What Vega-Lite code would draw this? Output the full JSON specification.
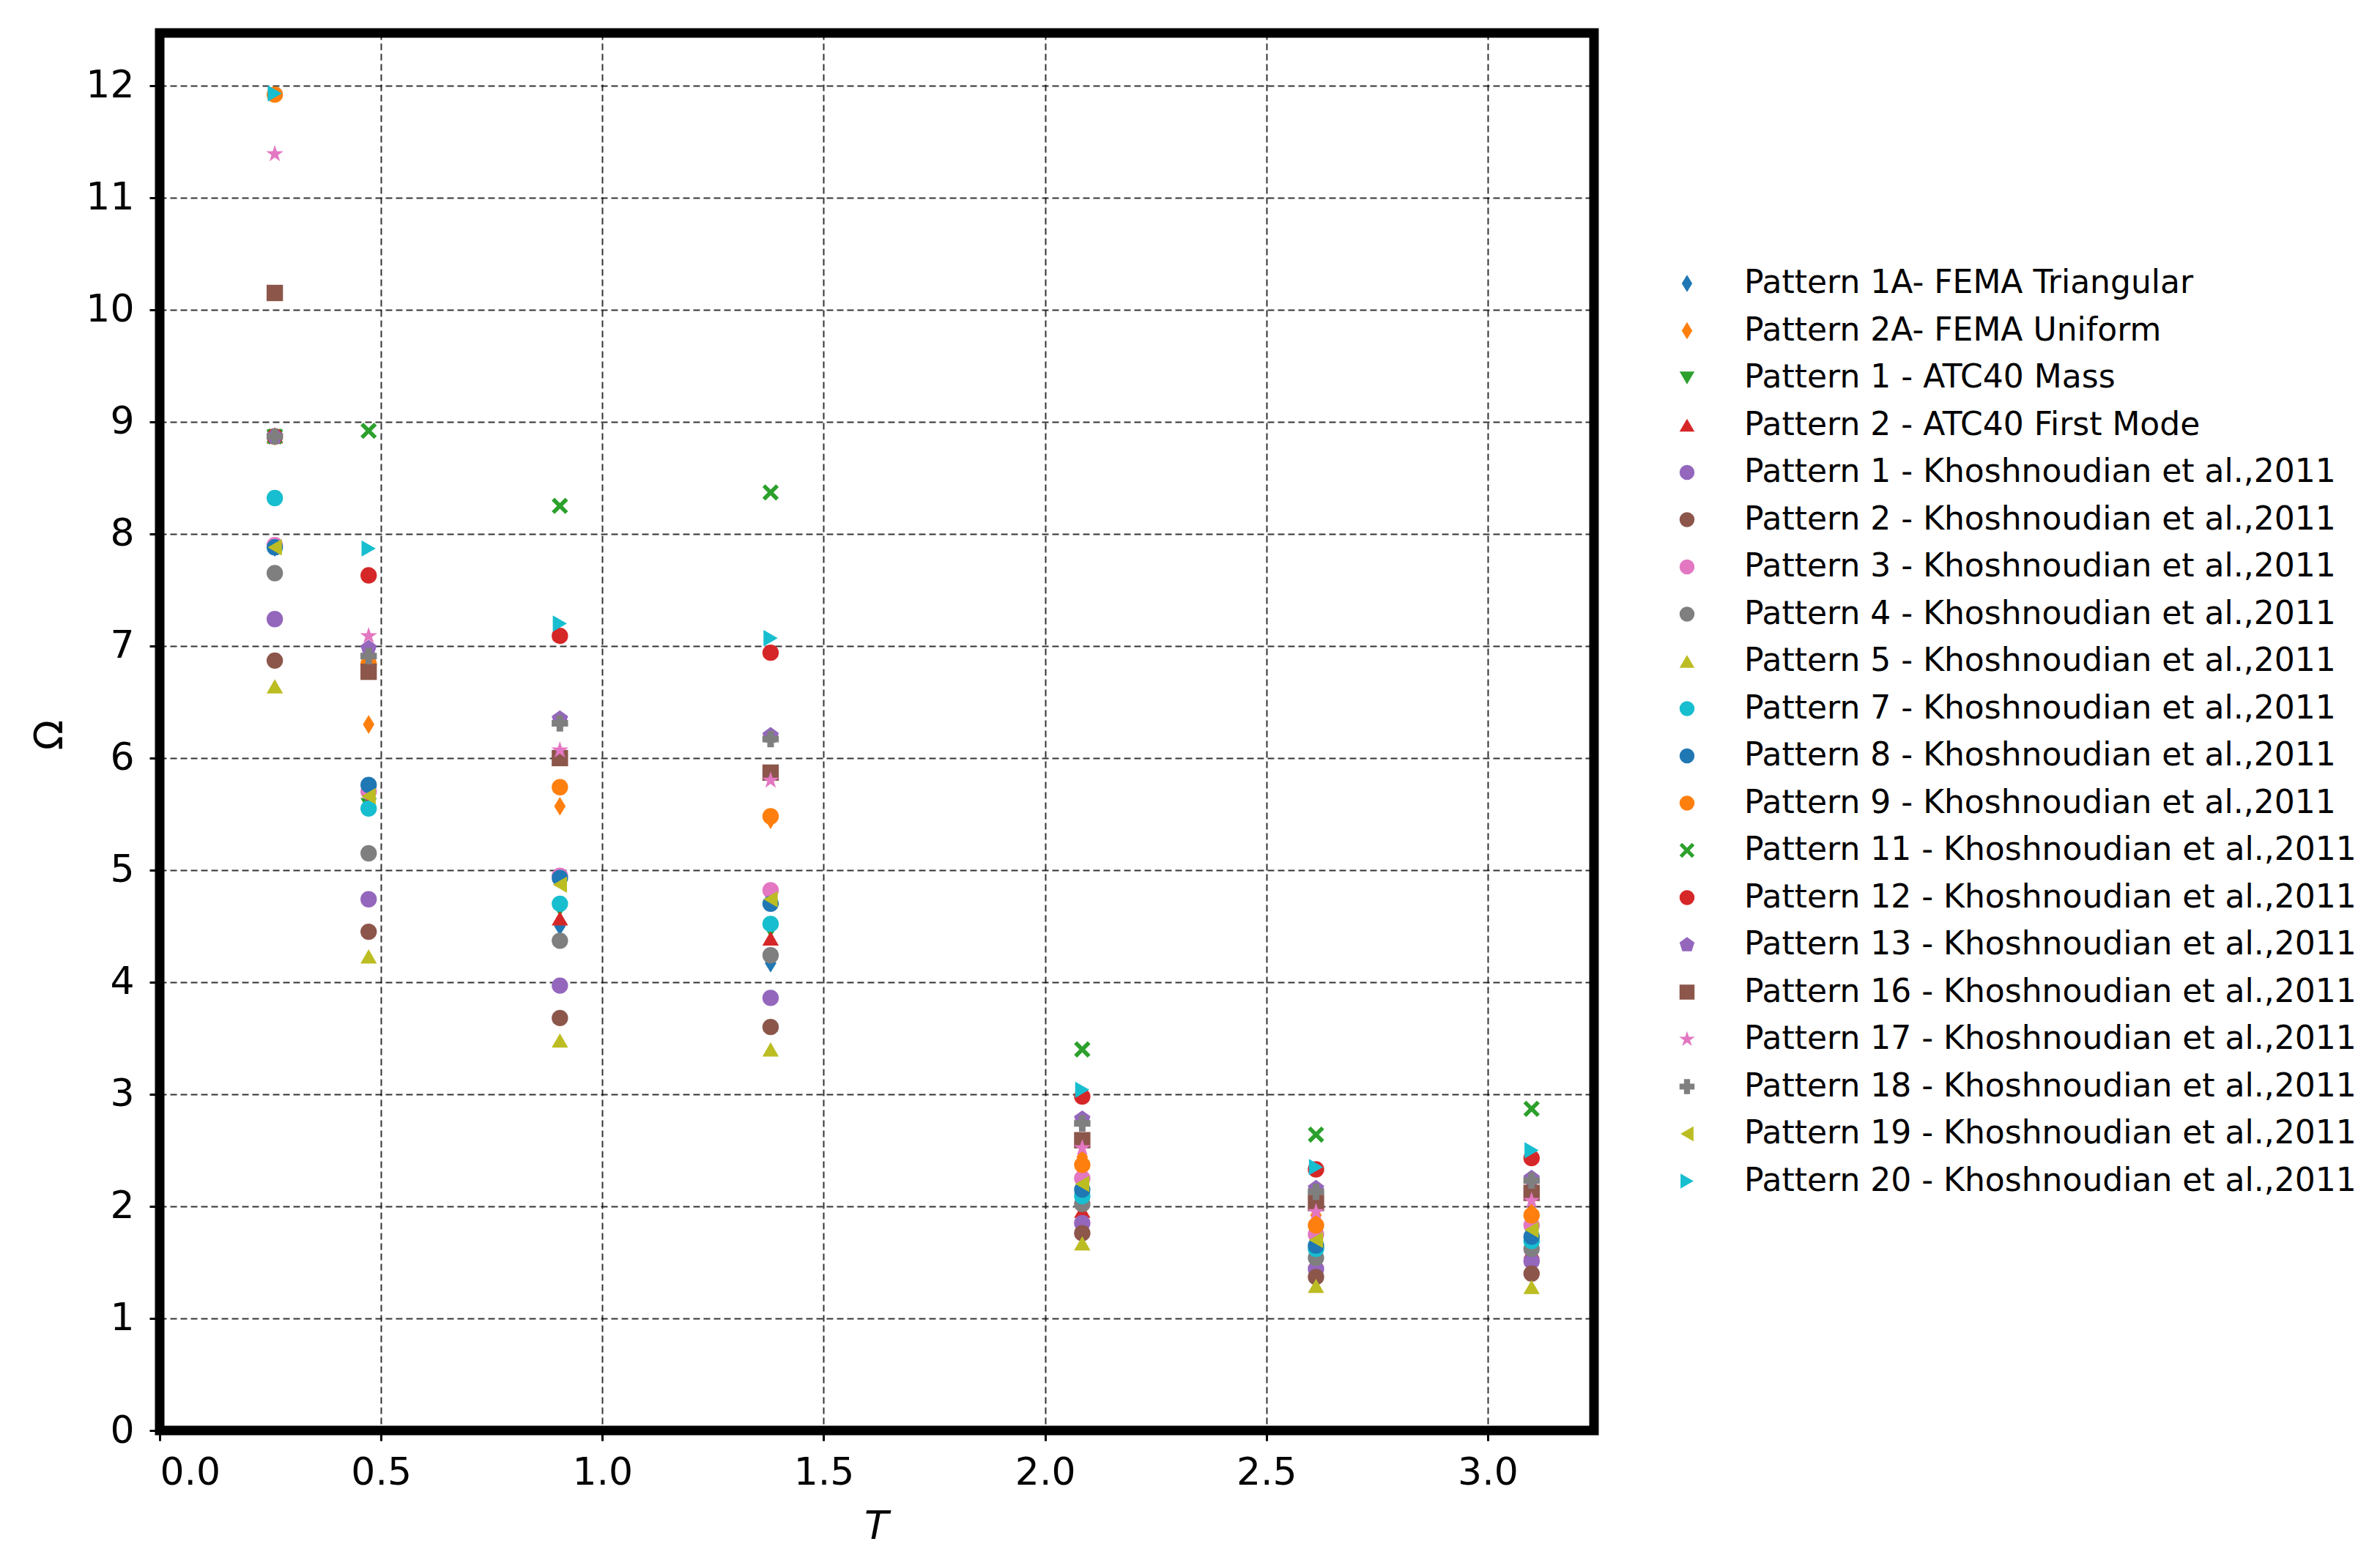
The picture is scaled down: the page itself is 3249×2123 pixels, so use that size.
{
  "$schema": "https://vega.github.io/schema/vega-lite/v6.json",
  "width": 1958,
  "height": 1908,
  "autosize": {"type": "none"},
  "padding": {"left": 218, "top": 45, "right": 1073, "bottom": 170},
  "background": "white",
  "config": {
    "font": "DejaVu Sans",
    "view": {"stroke": "black", "strokeWidth": 13}
  },
  "data": {
    "values": [
      {"pattern": "Pattern 1A- FEMA Triangular", "T": 0.26, "Omega": 7.88},
      {"pattern": "Pattern 1A- FEMA Triangular", "T": 0.472, "Omega": 5.62},
      {"pattern": "Pattern 1A- FEMA Triangular", "T": 0.904, "Omega": 4.50},
      {"pattern": "Pattern 1A- FEMA Triangular", "T": 1.38, "Omega": 4.17},
      {"pattern": "Pattern 1A- FEMA Triangular", "T": 2.084, "Omega": 2.12},
      {"pattern": "Pattern 1A- FEMA Triangular", "T": 2.612, "Omega": 1.63},
      {"pattern": "Pattern 1A- FEMA Triangular", "T": 3.099, "Omega": 1.70},
      {"pattern": "Pattern 2A- FEMA Uniform", "T": 0.26, "Omega": 8.87},
      {"pattern": "Pattern 2A- FEMA Uniform", "T": 0.472, "Omega": 6.30},
      {"pattern": "Pattern 2A- FEMA Uniform", "T": 0.904, "Omega": 5.57},
      {"pattern": "Pattern 2A- FEMA Uniform", "T": 1.38, "Omega": 5.45},
      {"pattern": "Pattern 2A- FEMA Uniform", "T": 2.084, "Omega": 2.44},
      {"pattern": "Pattern 2A- FEMA Uniform", "T": 2.612, "Omega": 1.92},
      {"pattern": "Pattern 2A- FEMA Uniform", "T": 3.099, "Omega": 1.95},
      {"pattern": "Pattern 1 - ATC40 Mass", "T": 0.26, "Omega": 8.87},
      {"pattern": "Pattern 1 - ATC40 Mass", "T": 0.472, "Omega": 5.58},
      {"pattern": "Pattern 1 - ATC40 Mass", "T": 0.904, "Omega": 4.65},
      {"pattern": "Pattern 1 - ATC40 Mass", "T": 1.38, "Omega": 4.46},
      {"pattern": "Pattern 1 - ATC40 Mass", "T": 2.084, "Omega": 2.06},
      {"pattern": "Pattern 1 - ATC40 Mass", "T": 2.612, "Omega": 1.60},
      {"pattern": "Pattern 1 - ATC40 Mass", "T": 3.099, "Omega": 1.66},
      {"pattern": "Pattern 2 - ATC40 First Mode", "T": 0.26, "Omega": 8.87},
      {"pattern": "Pattern 2 - ATC40 First Mode", "T": 0.472, "Omega": 5.60},
      {"pattern": "Pattern 2 - ATC40 First Mode", "T": 0.904, "Omega": 4.57},
      {"pattern": "Pattern 2 - ATC40 First Mode", "T": 1.38, "Omega": 4.39},
      {"pattern": "Pattern 2 - ATC40 First Mode", "T": 2.084, "Omega": 1.96},
      {"pattern": "Pattern 2 - ATC40 First Mode", "T": 2.612, "Omega": 1.52},
      {"pattern": "Pattern 2 - ATC40 First Mode", "T": 3.099, "Omega": 1.60},
      {"pattern": "Pattern 1 - Khoshnoudian et al.,2011", "T": 0.26, "Omega": 7.24},
      {"pattern": "Pattern 1 - Khoshnoudian et al.,2011", "T": 0.472, "Omega": 4.74},
      {"pattern": "Pattern 1 - Khoshnoudian et al.,2011", "T": 0.904, "Omega": 3.97},
      {"pattern": "Pattern 1 - Khoshnoudian et al.,2011", "T": 1.38, "Omega": 3.86},
      {"pattern": "Pattern 1 - Khoshnoudian et al.,2011", "T": 2.084, "Omega": 1.85},
      {"pattern": "Pattern 1 - Khoshnoudian et al.,2011", "T": 2.612, "Omega": 1.44},
      {"pattern": "Pattern 1 - Khoshnoudian et al.,2011", "T": 3.099, "Omega": 1.51},
      {"pattern": "Pattern 2 - Khoshnoudian et al.,2011", "T": 0.26, "Omega": 6.87},
      {"pattern": "Pattern 2 - Khoshnoudian et al.,2011", "T": 0.472, "Omega": 4.45},
      {"pattern": "Pattern 2 - Khoshnoudian et al.,2011", "T": 0.904, "Omega": 3.68},
      {"pattern": "Pattern 2 - Khoshnoudian et al.,2011", "T": 1.38, "Omega": 3.60},
      {"pattern": "Pattern 2 - Khoshnoudian et al.,2011", "T": 2.084, "Omega": 1.76},
      {"pattern": "Pattern 2 - Khoshnoudian et al.,2011", "T": 2.612, "Omega": 1.37},
      {"pattern": "Pattern 2 - Khoshnoudian et al.,2011", "T": 3.099, "Omega": 1.40},
      {"pattern": "Pattern 3 - Khoshnoudian et al.,2011", "T": 0.26, "Omega": 7.90},
      {"pattern": "Pattern 3 - Khoshnoudian et al.,2011", "T": 0.472, "Omega": 5.70},
      {"pattern": "Pattern 3 - Khoshnoudian et al.,2011", "T": 0.904, "Omega": 4.95},
      {"pattern": "Pattern 3 - Khoshnoudian et al.,2011", "T": 1.38, "Omega": 4.82},
      {"pattern": "Pattern 3 - Khoshnoudian et al.,2011", "T": 2.084, "Omega": 2.25},
      {"pattern": "Pattern 3 - Khoshnoudian et al.,2011", "T": 2.612, "Omega": 1.75},
      {"pattern": "Pattern 3 - Khoshnoudian et al.,2011", "T": 3.099, "Omega": 1.83},
      {"pattern": "Pattern 4 - Khoshnoudian et al.,2011", "T": 0.26, "Omega": 7.65},
      {"pattern": "Pattern 4 - Khoshnoudian et al.,2011", "T": 0.472, "Omega": 5.15},
      {"pattern": "Pattern 4 - Khoshnoudian et al.,2011", "T": 0.904, "Omega": 4.37},
      {"pattern": "Pattern 4 - Khoshnoudian et al.,2011", "T": 1.38, "Omega": 4.24},
      {"pattern": "Pattern 4 - Khoshnoudian et al.,2011", "T": 2.084, "Omega": 2.02},
      {"pattern": "Pattern 4 - Khoshnoudian et al.,2011", "T": 2.612, "Omega": 1.54},
      {"pattern": "Pattern 4 - Khoshnoudian et al.,2011", "T": 3.099, "Omega": 1.62},
      {"pattern": "Pattern 5 - Khoshnoudian et al.,2011", "T": 0.26, "Omega": 6.64},
      {"pattern": "Pattern 5 - Khoshnoudian et al.,2011", "T": 0.472, "Omega": 4.23},
      {"pattern": "Pattern 5 - Khoshnoudian et al.,2011", "T": 0.904, "Omega": 3.48},
      {"pattern": "Pattern 5 - Khoshnoudian et al.,2011", "T": 1.38, "Omega": 3.40},
      {"pattern": "Pattern 5 - Khoshnoudian et al.,2011", "T": 2.084, "Omega": 1.67},
      {"pattern": "Pattern 5 - Khoshnoudian et al.,2011", "T": 2.612, "Omega": 1.29},
      {"pattern": "Pattern 5 - Khoshnoudian et al.,2011", "T": 3.099, "Omega": 1.28},
      {"pattern": "Pattern 7 - Khoshnoudian et al.,2011", "T": 0.26, "Omega": 8.32},
      {"pattern": "Pattern 7 - Khoshnoudian et al.,2011", "T": 0.472, "Omega": 5.55},
      {"pattern": "Pattern 7 - Khoshnoudian et al.,2011", "T": 0.904, "Omega": 4.70},
      {"pattern": "Pattern 7 - Khoshnoudian et al.,2011", "T": 1.38, "Omega": 4.52},
      {"pattern": "Pattern 7 - Khoshnoudian et al.,2011", "T": 2.084, "Omega": 2.09},
      {"pattern": "Pattern 7 - Khoshnoudian et al.,2011", "T": 2.612, "Omega": 1.62},
      {"pattern": "Pattern 7 - Khoshnoudian et al.,2011", "T": 3.099, "Omega": 1.69},
      {"pattern": "Pattern 8 - Khoshnoudian et al.,2011", "T": 0.26, "Omega": 7.88},
      {"pattern": "Pattern 8 - Khoshnoudian et al.,2011", "T": 0.472, "Omega": 5.76},
      {"pattern": "Pattern 8 - Khoshnoudian et al.,2011", "T": 0.904, "Omega": 4.93},
      {"pattern": "Pattern 8 - Khoshnoudian et al.,2011", "T": 1.38, "Omega": 4.70},
      {"pattern": "Pattern 8 - Khoshnoudian et al.,2011", "T": 2.084, "Omega": 2.15},
      {"pattern": "Pattern 8 - Khoshnoudian et al.,2011", "T": 2.612, "Omega": 1.65},
      {"pattern": "Pattern 8 - Khoshnoudian et al.,2011", "T": 3.099, "Omega": 1.73},
      {"pattern": "Pattern 9 - Khoshnoudian et al.,2011", "T": 0.26, "Omega": 11.92},
      {"pattern": "Pattern 9 - Khoshnoudian et al.,2011", "T": 0.472, "Omega": 6.84},
      {"pattern": "Pattern 9 - Khoshnoudian et al.,2011", "T": 0.904, "Omega": 5.74},
      {"pattern": "Pattern 9 - Khoshnoudian et al.,2011", "T": 1.38, "Omega": 5.48},
      {"pattern": "Pattern 9 - Khoshnoudian et al.,2011", "T": 2.084, "Omega": 2.37},
      {"pattern": "Pattern 9 - Khoshnoudian et al.,2011", "T": 2.612, "Omega": 1.83},
      {"pattern": "Pattern 9 - Khoshnoudian et al.,2011", "T": 3.099, "Omega": 1.92},
      {"pattern": "Pattern 11 - Khoshnoudian et al.,2011", "T": 0.26, "Omega": 8.87},
      {"pattern": "Pattern 11 - Khoshnoudian et al.,2011", "T": 0.472, "Omega": 8.92},
      {"pattern": "Pattern 11 - Khoshnoudian et al.,2011", "T": 0.904, "Omega": 8.25},
      {"pattern": "Pattern 11 - Khoshnoudian et al.,2011", "T": 1.38, "Omega": 8.37},
      {"pattern": "Pattern 11 - Khoshnoudian et al.,2011", "T": 2.084, "Omega": 3.40},
      {"pattern": "Pattern 11 - Khoshnoudian et al.,2011", "T": 2.612, "Omega": 2.64},
      {"pattern": "Pattern 11 - Khoshnoudian et al.,2011", "T": 3.099, "Omega": 2.87},
      {"pattern": "Pattern 12 - Khoshnoudian et al.,2011", "T": 0.26, "Omega": 8.87},
      {"pattern": "Pattern 12 - Khoshnoudian et al.,2011", "T": 0.472, "Omega": 7.63},
      {"pattern": "Pattern 12 - Khoshnoudian et al.,2011", "T": 0.904, "Omega": 7.09},
      {"pattern": "Pattern 12 - Khoshnoudian et al.,2011", "T": 1.38, "Omega": 6.94},
      {"pattern": "Pattern 12 - Khoshnoudian et al.,2011", "T": 2.084, "Omega": 2.98},
      {"pattern": "Pattern 12 - Khoshnoudian et al.,2011", "T": 2.612, "Omega": 2.33},
      {"pattern": "Pattern 12 - Khoshnoudian et al.,2011", "T": 3.099, "Omega": 2.43},
      {"pattern": "Pattern 13 - Khoshnoudian et al.,2011", "T": 0.26, "Omega": 8.87},
      {"pattern": "Pattern 13 - Khoshnoudian et al.,2011", "T": 0.472, "Omega": 6.98},
      {"pattern": "Pattern 13 - Khoshnoudian et al.,2011", "T": 0.904, "Omega": 6.35},
      {"pattern": "Pattern 13 - Khoshnoudian et al.,2011", "T": 1.38, "Omega": 6.20},
      {"pattern": "Pattern 13 - Khoshnoudian et al.,2011", "T": 2.084, "Omega": 2.78},
      {"pattern": "Pattern 13 - Khoshnoudian et al.,2011", "T": 2.612, "Omega": 2.16},
      {"pattern": "Pattern 13 - Khoshnoudian et al.,2011", "T": 3.099, "Omega": 2.25},
      {"pattern": "Pattern 16 - Khoshnoudian et al.,2011", "T": 0.26, "Omega": 10.15},
      {"pattern": "Pattern 16 - Khoshnoudian et al.,2011", "T": 0.472, "Omega": 6.77},
      {"pattern": "Pattern 16 - Khoshnoudian et al.,2011", "T": 0.904, "Omega": 6.00},
      {"pattern": "Pattern 16 - Khoshnoudian et al.,2011", "T": 1.38, "Omega": 5.87},
      {"pattern": "Pattern 16 - Khoshnoudian et al.,2011", "T": 2.084, "Omega": 2.59},
      {"pattern": "Pattern 16 - Khoshnoudian et al.,2011", "T": 2.612, "Omega": 2.03},
      {"pattern": "Pattern 16 - Khoshnoudian et al.,2011", "T": 3.099, "Omega": 2.12},
      {"pattern": "Pattern 17 - Khoshnoudian et al.,2011", "T": 0.26, "Omega": 11.39},
      {"pattern": "Pattern 17 - Khoshnoudian et al.,2011", "T": 0.472, "Omega": 7.09},
      {"pattern": "Pattern 17 - Khoshnoudian et al.,2011", "T": 0.904, "Omega": 6.07},
      {"pattern": "Pattern 17 - Khoshnoudian et al.,2011", "T": 1.38, "Omega": 5.80},
      {"pattern": "Pattern 17 - Khoshnoudian et al.,2011", "T": 2.084, "Omega": 2.52},
      {"pattern": "Pattern 17 - Khoshnoudian et al.,2011", "T": 2.612, "Omega": 1.95},
      {"pattern": "Pattern 17 - Khoshnoudian et al.,2011", "T": 3.099, "Omega": 2.05},
      {"pattern": "Pattern 18 - Khoshnoudian et al.,2011", "T": 0.26, "Omega": 8.87},
      {"pattern": "Pattern 18 - Khoshnoudian et al.,2011", "T": 0.472, "Omega": 6.91},
      {"pattern": "Pattern 18 - Khoshnoudian et al.,2011", "T": 0.904, "Omega": 6.31},
      {"pattern": "Pattern 18 - Khoshnoudian et al.,2011", "T": 1.38, "Omega": 6.17},
      {"pattern": "Pattern 18 - Khoshnoudian et al.,2011", "T": 2.084, "Omega": 2.74},
      {"pattern": "Pattern 18 - Khoshnoudian et al.,2011", "T": 2.612, "Omega": 2.13},
      {"pattern": "Pattern 18 - Khoshnoudian et al.,2011", "T": 3.099, "Omega": 2.23},
      {"pattern": "Pattern 19 - Khoshnoudian et al.,2011", "T": 0.26, "Omega": 7.88},
      {"pattern": "Pattern 19 - Khoshnoudian et al.,2011", "T": 0.472, "Omega": 5.66},
      {"pattern": "Pattern 19 - Khoshnoudian et al.,2011", "T": 0.904, "Omega": 4.87},
      {"pattern": "Pattern 19 - Khoshnoudian et al.,2011", "T": 1.38, "Omega": 4.74},
      {"pattern": "Pattern 19 - Khoshnoudian et al.,2011", "T": 2.084, "Omega": 2.20},
      {"pattern": "Pattern 19 - Khoshnoudian et al.,2011", "T": 2.612, "Omega": 1.70},
      {"pattern": "Pattern 19 - Khoshnoudian et al.,2011", "T": 3.099, "Omega": 1.79},
      {"pattern": "Pattern 20 - Khoshnoudian et al.,2011", "T": 0.26, "Omega": 11.93},
      {"pattern": "Pattern 20 - Khoshnoudian et al.,2011", "T": 0.472, "Omega": 7.87},
      {"pattern": "Pattern 20 - Khoshnoudian et al.,2011", "T": 0.904, "Omega": 7.20},
      {"pattern": "Pattern 20 - Khoshnoudian et al.,2011", "T": 1.38, "Omega": 7.07},
      {"pattern": "Pattern 20 - Khoshnoudian et al.,2011", "T": 2.084, "Omega": 3.04},
      {"pattern": "Pattern 20 - Khoshnoudian et al.,2011", "T": 2.612, "Omega": 2.35},
      {"pattern": "Pattern 20 - Khoshnoudian et al.,2011", "T": 3.099, "Omega": 2.50}
    ]
  },
  "mark": {"type": "point", "filled": true, "opacity": 1, "size": 500, "strokeWidth": 0},
  "encoding": {
    "x": {
      "field": "T", "type": "quantitative",
      "scale": {"domain": [0, 3.24], "nice": false, "zero": false},
      "axis": {
        "values": [0, 0.5, 1.0, 1.5, 2.0, 2.5, 3.0], "format": ".1f",
        "labelFontSize": 52, "labelColor": "black", "labelPadding": 18,
        "tickSize": 14, "tickWidth": 3, "tickColor": "black", "domain": false,
        "grid": true, "gridColor": "black", "gridDash": [9, 5], "gridWidth": 2, "gridOpacity": 0.8,
        "title": "T", "titleFontStyle": "italic", "titleFontWeight": "normal", "titleFontSize": 54,
        "titleColor": "black", "titleX": 978, "titleY": 131, "titleBaseline": "middle", "titleAnchor": "middle"
      }
    },
    "y": {
      "field": "Omega", "type": "quantitative",
      "scale": {"domain": [0, 12.47], "nice": false, "zero": false},
      "axis": {
        "values": [0, 1, 2, 3, 4, 5, 6, 7, 8, 9, 10, 11, 12],
        "labelFontSize": 52, "labelColor": "black", "labelPadding": 21,
        "tickSize": 14, "tickWidth": 3, "tickColor": "black", "domain": false,
        "grid": true, "gridColor": "black", "gridDash": [9, 5], "gridWidth": 2, "gridOpacity": 0.8,
        "title": "Ω", "titleFontWeight": "normal", "titleFontSize": 54, "titleColor": "black",
        "titleAngle": -90, "titleX": -150, "titleY": 958, "titleBaseline": "middle", "titleAlign": "center"
      }
    },
    "color": {
      "field": "pattern", "type": "nominal",
      "scale": {
        "domain": [
          "Pattern 1A- FEMA Triangular", "Pattern 2A- FEMA Uniform", "Pattern 1 - ATC40 Mass", "Pattern 2 - ATC40 First Mode",
          "Pattern 1 - Khoshnoudian et al.,2011", "Pattern 2 - Khoshnoudian et al.,2011", "Pattern 3 - Khoshnoudian et al.,2011",
          "Pattern 4 - Khoshnoudian et al.,2011", "Pattern 5 - Khoshnoudian et al.,2011", "Pattern 7 - Khoshnoudian et al.,2011",
          "Pattern 8 - Khoshnoudian et al.,2011", "Pattern 9 - Khoshnoudian et al.,2011", "Pattern 11 - Khoshnoudian et al.,2011",
          "Pattern 12 - Khoshnoudian et al.,2011", "Pattern 13 - Khoshnoudian et al.,2011", "Pattern 16 - Khoshnoudian et al.,2011",
          "Pattern 17 - Khoshnoudian et al.,2011", "Pattern 18 - Khoshnoudian et al.,2011", "Pattern 19 - Khoshnoudian et al.,2011",
          "Pattern 20 - Khoshnoudian et al.,2011"
        ],
        "range": ["#1f77b4", "#ff7f0e", "#2ca02c", "#d62728", "#9467bd", "#8c564b", "#e377c2", "#7f7f7f", "#bcbd22", "#17becf",
                  "#1f77b4", "#ff7f0e", "#2ca02c", "#d62728", "#9467bd", "#8c564b", "#e377c2", "#7f7f7f", "#bcbd22", "#17becf"]
      },
      "legend": {
        "title": null, "orient": "none", "legendX": 2063, "legendY": 320, "padding": 0,
        "labelFontSize": 44, "labelColor": "black", "labelLimit": 1000, "labelOffset": 56,
        "symbolSize": 420, "symbolStrokeWidth": 0, "rowPadding": 20.5
      }
    },
    "shape": {
      "field": "pattern", "type": "nominal",
      "scale": {
        "domain": [
          "Pattern 1A- FEMA Triangular", "Pattern 2A- FEMA Uniform", "Pattern 1 - ATC40 Mass", "Pattern 2 - ATC40 First Mode",
          "Pattern 1 - Khoshnoudian et al.,2011", "Pattern 2 - Khoshnoudian et al.,2011", "Pattern 3 - Khoshnoudian et al.,2011",
          "Pattern 4 - Khoshnoudian et al.,2011", "Pattern 5 - Khoshnoudian et al.,2011", "Pattern 7 - Khoshnoudian et al.,2011",
          "Pattern 8 - Khoshnoudian et al.,2011", "Pattern 9 - Khoshnoudian et al.,2011", "Pattern 11 - Khoshnoudian et al.,2011",
          "Pattern 12 - Khoshnoudian et al.,2011", "Pattern 13 - Khoshnoudian et al.,2011", "Pattern 16 - Khoshnoudian et al.,2011",
          "Pattern 17 - Khoshnoudian et al.,2011", "Pattern 18 - Khoshnoudian et al.,2011", "Pattern 19 - Khoshnoudian et al.,2011",
          "Pattern 20 - Khoshnoudian et al.,2011"
        ],
        "range": [
          "M0,-1.15L0.7,0L0,1.15L-0.7,0Z", "M0,-1.15L0.7,0L0,1.15L-0.7,0Z", "triangle-down", "triangle-up",
          "circle", "circle", "circle", "circle", "triangle-up", "circle",
          "circle", "circle",
          "M-1,-0.65L-0.65,-1L0,-0.35L0.65,-1L1,-0.65L0.35,0L1,0.65L0.65,1L0,0.35L-0.65,1L-1,0.65L-0.35,0Z",
          "circle", "M0,-1.05L1,-0.32L0.62,0.85L-0.62,0.85L-1,-0.32Z", "square",
          "M0,-1.1L0.25,-0.34L1.05,-0.34L0.4,0.13L0.65,0.89L0,0.42L-0.65,0.89L-0.4,0.13L-1.05,-0.34L-0.25,-0.34Z",
          "cross", "triangle-left", "triangle-right"
        ]
      },
      "legend": null
    }
  }
}
